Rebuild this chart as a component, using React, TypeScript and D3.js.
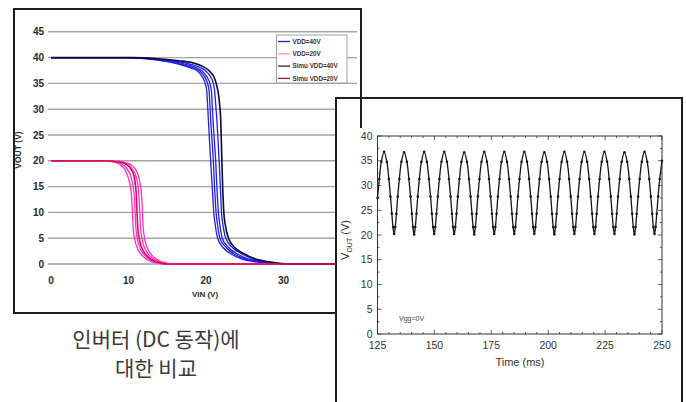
import React from "react";
import * as d3 from "d3";

// ---- left chart: inverter DC transfer curves (VIN, VOUT) ----
const vinTicks = [0, 10, 20, 30];
const voutTicks = [0, 5, 10, 15, 20, 25, 30, 35, 40, 45];

// measured VDD=40V
const meas40a = [[0,40],[9,40],[12,39.8],[15,39.2],[17,38.5],[18.2,37.9],[18.9,37.4],[19.5,36.3],[19.9,35],[20.1,33.5],[20.2,31],[20.3,28],[20.6,20],[20.8,15],[21,10],[21.2,7.5],[21.5,5],[22.2,3.2],[23.2,2],[24.6,1],[26.5,0.4],[29,0],[40,0]];
const meas40b = [[0,40],[9.3,40],[12.3,39.8],[15.3,39.2],[17.3,38.5],[18.5,37.9],[19.2,37.4],[19.8,36.3],[20.2,35],[20.4,33.5],[20.5,31],[20.6,28],[20.95,20],[21.1,15],[21.3,10],[21.5,7.5],[21.8,5],[22.6,3.2],[23.6,2],[25,1],[26.9,0.4],[29.4,0],[40,0]];
const meas40c = [[0,40],[9.6,40],[12.6,39.8],[15.6,39.3],[17.6,38.6],[18.8,38],[19.5,37.4],[20.1,36.3],[20.5,35],[20.7,33.5],[20.8,31],[20.9,28],[21.25,20],[21.4,15],[21.6,10],[21.8,7.5],[22.1,5],[22.9,3.2],[24,2],[25.4,1],[27.3,0.4],[29.8,0],[40,0]];
const meas40d = [[0,40],[10,40],[13,39.8],[16,39.3],[18,38.7],[19.2,38.1],[19.9,37.5],[20.5,36.5],[20.9,35.2],[21.1,33.7],[21.25,31],[21.4,28],[21.7,20],[21.85,15],[22,10],[22.2,7.5],[22.55,5],[23.4,3.2],[24.6,2],[26,1],[27.9,0.4],[30.3,0],[40,0]];
// simulated VDD=40V
const simu40 = [[0,40],[10.5,40],[13.5,39.8],[16.5,39.4],[18.5,38.9],[19.7,38.2],[20.5,37.3],[21.1,36],[21.4,34.5],[21.6,33],[21.75,31],[21.9,28],[22.05,20],[22.15,15],[22.3,10],[22.5,7.5],[22.9,5],[23.7,3.2],[24.9,2],[26.3,1],[28.3,0.4],[31,0],[40,0]];

// measured VDD=20V
const meas20a = [[0,20],[6,20],[7.5,19.9],[8.5,19.6],[9.2,18.9],[9.7,17.8],[10,16.6],[10.25,15],[10.4,13],[10.5,10],[10.6,7],[10.8,4.8],[11.1,3.2],[11.5,2.1],[12,1.3],[12.7,0.6],[13.6,0.2],[14.5,0],[40,0]];
const meas20b = [[0,20],[6.3,20],[7.8,19.9],[8.8,19.6],[9.5,19],[10,18],[10.35,16.8],[10.6,15],[10.75,13],[10.85,10],[10.95,7],[11.15,4.8],[11.45,3.2],[11.85,2.1],[12.35,1.3],[13.05,0.6],[13.95,0.2],[14.8,0],[40,0]];
const meas20c = [[0,20],[6.8,20],[8.3,19.9],[9.3,19.7],[10,19.2],[10.5,18.4],[10.9,17.2],[11.2,15.4],[11.35,13],[11.45,10],[11.55,7],[11.75,4.8],[12.05,3.2],[12.45,2.1],[12.95,1.3],[13.65,0.6],[14.5,0.2],[15.3,0],[40,0]];
const meas20d = [[0,20],[7,20],[8.5,19.9],[9.5,19.7],[10.2,19.3],[10.8,18.6],[11.2,17.4],[11.5,15.6],[11.7,13],[11.8,10],[11.9,7],[12.1,4.8],[12.4,3.2],[12.8,2.1],[13.3,1.3],[14,0.6],[14.9,0.2],[15.6,0],[40,0]];
// simulated VDD=20V
const simu20 = [[0,20],[6.5,20],[8,19.9],[9,19.7],[9.8,19.2],[10.3,18.4],[10.7,17.1],[10.9,15.3],[11.02,13],[11.1,10],[11.2,7],[11.4,4.8],[11.7,3.2],[12.1,2.1],[12.6,1.3],[13.3,0.6],[14.2,0.2],[15,0],[40,0]];

const legendLabels = ["VDD=40V", "VDD=20V", "Simu VDD=40V", "Simu VDD=20V"];

// ---- right chart: output waveform, Vgg=0V ----
const timeTicks = [125, 150, 175, 200, 225, 250];
const voutTicksR = [0, 5, 10, 15, 20, 25, 30, 35, 40];
const waveTime = [
  125.0, 125.8, 126.7, 127.9,
  129.1, 130.0, 130.7, 131.3, 131.8, 132.3, 132.8, 133.3, 133.9, 134.6, 135.5, 136.7,
  137.9, 138.8, 139.5, 140.1, 140.6, 141.1, 141.6, 142.1, 142.7, 143.4, 144.3, 145.5,
  146.7, 147.6, 148.3, 148.9, 149.4, 149.9, 150.4, 150.9, 151.5, 152.2, 153.1, 154.3,
  155.5, 156.4, 157.1, 157.7, 158.2, 158.7, 159.2, 159.7, 160.3, 161.0, 161.9, 163.1,
  164.3, 165.2, 165.9, 166.5, 167.0, 167.5, 168.0, 168.5, 169.1, 169.8, 170.7, 171.9,
  173.1, 174.0, 174.7, 175.3, 175.8, 176.3, 176.8, 177.3, 177.9, 178.6, 179.5, 180.7,
  181.9, 182.8, 183.5, 184.1, 184.6, 185.1, 185.6, 186.1, 186.7, 187.4, 188.3, 189.5,
  190.7, 191.6, 192.3, 192.9, 193.4, 193.9, 194.4, 194.9, 195.5, 196.2, 197.1, 198.3,
  199.5, 200.4, 201.1, 201.7, 202.2, 202.7, 203.2, 203.7, 204.3, 205.0, 205.9, 207.1,
  208.3, 209.2, 209.9, 210.5, 211.0, 211.5, 212.0, 212.5, 213.1, 213.8, 214.7, 215.9,
  217.1, 218.0, 218.7, 219.3, 219.8, 220.3, 220.8, 221.3, 221.9, 222.6, 223.5, 224.7,
  225.9, 226.8, 227.5, 228.1, 228.6, 229.1, 229.6, 230.1, 230.7, 231.4, 232.3, 233.5,
  234.7, 235.6, 236.3, 236.9, 237.4, 237.9, 238.4, 238.9, 239.5, 240.2, 241.1, 242.3,
  243.5, 244.4, 245.1, 245.7, 246.2, 246.7, 247.2, 247.7, 248.3, 249.0, 250.0,
];
const waveVout = [
  27.5, 31.3, 34.8, 36.8,
  34.8, 31.3, 27.8, 24.3, 21.6, 20.2, 21.6, 24.3, 27.8, 31.3, 34.8, 36.7,
  34.8, 31.3, 27.8, 24.3, 21.6, 20.1, 21.6, 24.3, 27.8, 31.3, 34.8, 36.8,
  34.8, 31.3, 27.8, 24.3, 21.6, 20.2, 21.6, 24.3, 27.8, 31.3, 34.8, 36.8,
  34.8, 31.3, 27.8, 24.3, 21.6, 20.2, 21.6, 24.3, 27.8, 31.3, 34.8, 36.7,
  34.8, 31.3, 27.8, 24.3, 21.6, 20.1, 21.6, 24.3, 27.8, 31.3, 34.8, 36.8,
  34.8, 31.3, 27.8, 24.3, 21.6, 20.2, 21.6, 24.3, 27.8, 31.3, 34.8, 36.8,
  34.8, 31.3, 27.8, 24.3, 21.6, 20.2, 21.6, 24.3, 27.8, 31.3, 34.8, 36.8,
  34.8, 31.3, 27.8, 24.3, 21.6, 20.2, 21.6, 24.3, 27.8, 31.3, 34.8, 36.7,
  34.8, 31.3, 27.8, 24.3, 21.6, 20.1, 21.6, 24.3, 27.8, 31.3, 34.8, 36.8,
  34.8, 31.3, 27.8, 24.3, 21.6, 20.2, 21.6, 24.3, 27.8, 31.3, 34.8, 36.8,
  34.8, 31.3, 27.8, 24.3, 21.6, 20.2, 21.6, 24.3, 27.8, 31.3, 34.8, 36.8,
  34.8, 31.3, 27.8, 24.3, 21.6, 20.2, 21.6, 24.3, 27.8, 31.3, 34.8, 36.7,
  34.8, 31.3, 27.8, 24.3, 21.6, 20.1, 21.6, 24.3, 27.8, 31.3, 34.8, 36.8,
  34.8, 31.3, 27.8, 24.3, 21.6, 20.2, 21.6, 24.3, 27.8, 31.3, 35.0,
];

const captionLines = ["인버터 (DC 동작)에", "대한 비교"];

const BLUE = "#1f1fe6";
const PINK = "#ff2fc4";
const NAVY = "#0b0b3a";
const RED = "#d2124e";
const sans = "'Liberation Sans', Arial, sans-serif";

export default function App() {
  // left chart scales
  const xL = d3.scaleLinear().domain([0, 40]).range([51, 361]);
  const yL = d3.scaleLinear().domain([0, 45]).range([264, 31.8]);
  const lineL = d3.line<number[]>()
    .x(d => xL(d[0]))
    .y(d => yL(d[1]))
    .curve(d3.curveMonotoneX);

  // right chart scales
  const xR = d3.scaleLinear().domain([125, 250]).range([377.5, 662]);
  const yR = d3.scaleLinear().domain([0, 40]).range([334, 136]);
  const wave = waveTime.map((t, i) => [t, waveVout[i]]);
  const lineR = d3.line<number[]>()
    .x(d => xR(d[0]))
    .y(d => yR(d[1]))
    .curve(d3.curveCatmullRom.alpha(0.5));

  const series = [
    { data: meas40a, color: BLUE, w: 1.3 },
    { data: meas40b, color: BLUE, w: 1.3 },
    { data: meas40c, color: BLUE, w: 1.3 },
    { data: meas40d, color: BLUE, w: 1.3 },
    { data: meas20a, color: PINK, w: 1.3 },
    { data: meas20b, color: PINK, w: 1.3 },
    { data: meas20c, color: PINK, w: 1.3 },
    { data: meas20d, color: PINK, w: 1.3 },
    { data: simu40, color: NAVY, w: 1.6 },
    { data: simu20, color: RED, w: 1.6 },
  ];
  const legendColors = [BLUE, "#ff8fd0", "#1c3a22", "#8e1a2c"];

  const minorT = d3.range(125, 250.1, 5);
  const minorV = d3.range(0, 40.1, 2.5);

  return (
    <div style={{ position: "absolute", left: 0, top: 0 }}>
      <svg width={686} height={402} style={{ display: "block", background: "#fff" }}>
        <defs>
          <clipPath id="clipL">
            <rect x={15} y={10} width={344} height={302} />
          </clipPath>
        </defs>

        {/* left chart */}
        <g clipPath="url(#clipL)">
          {voutTicks.map(v => (
            <line key={v} x1={xL(0) - 3} x2={xL(40) - 4} y1={yL(v)} y2={yL(v)} stroke="#a3a3a3" strokeWidth={1.4} />
          ))}
          {series.map((s, i) => (
            <path key={i} d={lineL(s.data) || ""} fill="none" stroke={s.color} strokeWidth={s.w} />
          ))}
        </g>
        {voutTicks.map(v => (
          <text key={v} x={44} y={yL(v) + 3.6} textAnchor="end" fontFamily={sans} fontWeight="bold" fontSize={10} fill="#2a2a2a">{v}</text>
        ))}
        {vinTicks.map(v => (
          <text key={v} x={xL(v)} y={283.5} textAnchor="middle" fontFamily={sans} fontWeight="bold" fontSize={10} fill="#2a2a2a">{v}</text>
        ))}
        <text x={205} y={297} textAnchor="middle" fontFamily={sans} fontWeight="bold" fontSize={8} fill="#2a2a2a">VIN (V)</text>
        <text transform="translate(21,150) rotate(-90)" textAnchor="middle" fontFamily={sans} fontWeight="bold" fontSize={8.5} fill="#2a2a2a">VOUT (V)</text>

        {/* legend */}
        <rect x={276.5} y={35} width={70.5} height={48} fill="#fff" stroke="#a0a0a0" strokeWidth={1} />
        {legendLabels.map((l, i) => (
          <g key={l} transform={`translate(278,${41.5 + i * 12.3})`}>
            <line x1={0} x2={12} y1={0} y2={0} stroke={legendColors[i]} strokeWidth={1.3} />
            <text x={14.5} y={2.2} fontFamily={sans} fontWeight="bold" fontSize={6.3} fill="#333">{l}</text>
          </g>
        ))}
        <rect x={14} y={9} width={347} height={304} fill="none" stroke="#1e1e1e" strokeWidth={2} />

        {/* caption */}
        {captionLines.map((c, i) => (
          <text key={c} x={156} y={347 + i * 29} textAnchor="middle" fontFamily="'Noto Sans CJK KR', sans-serif" fontSize={21} fill="#3a3a3a">{c}</text>
        ))}

        {/* right chart */}
        <rect x={336} y={98} width={346} height={310} fill="#fff" stroke="#1e1e1e" strokeWidth={2} />
        <line x1={361} x2={361} y1={98} y2={128} stroke="#1e1e1e" strokeWidth={2} />

        <rect x={xR(125)} y={yR(40)} width={xR(250) - xR(125)} height={yR(0) - yR(40)} fill="none" stroke="#333" strokeWidth={1} />
        {minorT.map(t => {
          const len = t % 25 === 0 ? 4 : 2;
          return (
            <g key={t}>
              <line x1={xR(t)} x2={xR(t)} y1={yR(0)} y2={yR(0) - len} stroke="#333" strokeWidth={0.8} />
              <line x1={xR(t)} x2={xR(t)} y1={yR(40)} y2={yR(40) + len} stroke="#333" strokeWidth={0.8} />
            </g>
          );
        })}
        {minorV.map(v => {
          const len = v % 5 === 0 ? 4 : 2;
          return (
            <g key={v}>
              <line x1={xR(125)} x2={xR(125) + len} y1={yR(v)} y2={yR(v)} stroke="#333" strokeWidth={0.8} />
              <line x1={xR(250)} x2={xR(250) - len} y1={yR(v)} y2={yR(v)} stroke="#333" strokeWidth={0.8} />
            </g>
          );
        })}
        {voutTicksR.map(v => (
          <text key={v} x={372.5} y={yR(v) + 3.5} textAnchor="end" fontFamily={sans} fontSize={10.5} fill="#333">{v}</text>
        ))}
        {timeTicks.map(t => (
          <text key={t} x={xR(t)} y={349} textAnchor="middle" fontFamily={sans} fontSize={10.5} fill="#333">{t}</text>
        ))}
        <text x={520} y={366} textAnchor="middle" fontFamily={sans} fontSize={11} fill="#333">Time (ms)</text>
        <text transform="translate(349,240) rotate(-90)" textAnchor="middle" fontFamily={sans} fontSize={11} fill="#333">
          V<tspan fontSize={7} dy={2.5}>OUT</tspan><tspan dy={-2.5}> (V)</tspan>
        </text>
        <text x={399} y={321} fontFamily={sans} fontSize={7} fill="#444">Vgg=0V</text>

        <path d={lineR(wave) || ""} fill="none" stroke="#151515" strokeWidth={1.3} />
        {wave.map((d, i) => (
          <circle key={i} cx={xR(d[0])} cy={yR(d[1])} r={1.25} fill="#151515" />
        ))}
      </svg>
    </div>
  );
}
